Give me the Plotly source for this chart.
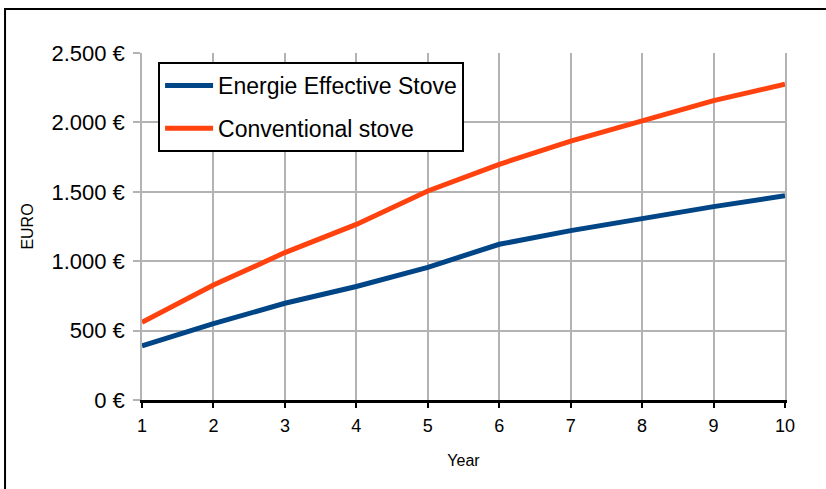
import plotly.graph_objects as go

# Cumulative cost per year for the two stove types
years = [1, 2, 3, 4, 5, 6, 7, 8, 9, 10]
efficient_stove = [390, 550, 697, 818, 956, 1122, 1220, 1310, 1393, 1472]
conventional_stove = [560, 828, 1062, 1265, 1506, 1698, 1865, 2010, 2157, 2275]
y_ticks = [0, 500, 1000, 1500, 2000, 2500]
y_tick_labels = [f"{v:,}".replace(",", ".") + " €" for v in y_ticks]

FONT = "Liberation Sans, Arial, sans-serif"
GRID = "#b3b3b3"

fig = go.Figure()
fig.add_trace(go.Scatter(
    x=years, y=efficient_stove, mode="lines", name="Energie Effective Stove",
    line=dict(color="#004586", width=5), legendgroup="a",
))
fig.add_trace(go.Scatter(
    x=years, y=conventional_stove, mode="lines", name="Conventional stove",
    line=dict(color="#ff420e", width=5), legendgroup="b",
))

# outer chart frame
fig.add_shape(type="rect", xref="paper", yref="paper",
              x0=-0.213, x1=1.15, y0=-0.35, y1=1.127,
              line=dict(color="black", width=2), layer="below")

fig.update_layout(
    width=826, height=489,
    margin=dict(l=142, r=41, t=53, b=89),
    paper_bgcolor="white", plot_bgcolor="white",
    font=dict(family=FONT, color="black"),
    showlegend=True,
    legend=dict(
        x=0.025, y=0.974, xanchor="left", yanchor="top",
        bordercolor="black", borderwidth=2, bgcolor="white",
        font=dict(size=23, family=FONT), tracegroupgap=10,
        itemwidth=48,
    ),
    xaxis=dict(
        range=[1, 10], tickvals=years, showgrid=True, gridcolor=GRID, gridwidth=1.5,
        showline=True, linecolor="black", linewidth=2.5,
        ticks="outside", ticklen=5, tickwidth=2, tickcolor="black",
        tickfont=dict(size=18), zeroline=False, ticklabelstandoff=3,
        title=dict(text="Year", font=dict(size=16), standoff=20),
    ),
    yaxis=dict(
        range=[0, 2500], tickvals=y_ticks, ticktext=y_tick_labels,
        showgrid=True, gridcolor=GRID, gridwidth=1.5,
        showline=True, linecolor=GRID, linewidth=1.5, mirror=True,
        ticks="outside", ticklen=7, tickwidth=1.5, tickcolor=GRID,
        tickfont=dict(size=22), zeroline=False, ticklabelstandoff=4,
        title=dict(text="EURO", font=dict(size=16), standoff=14),
    ),
)

fig.write_html("out.html")
